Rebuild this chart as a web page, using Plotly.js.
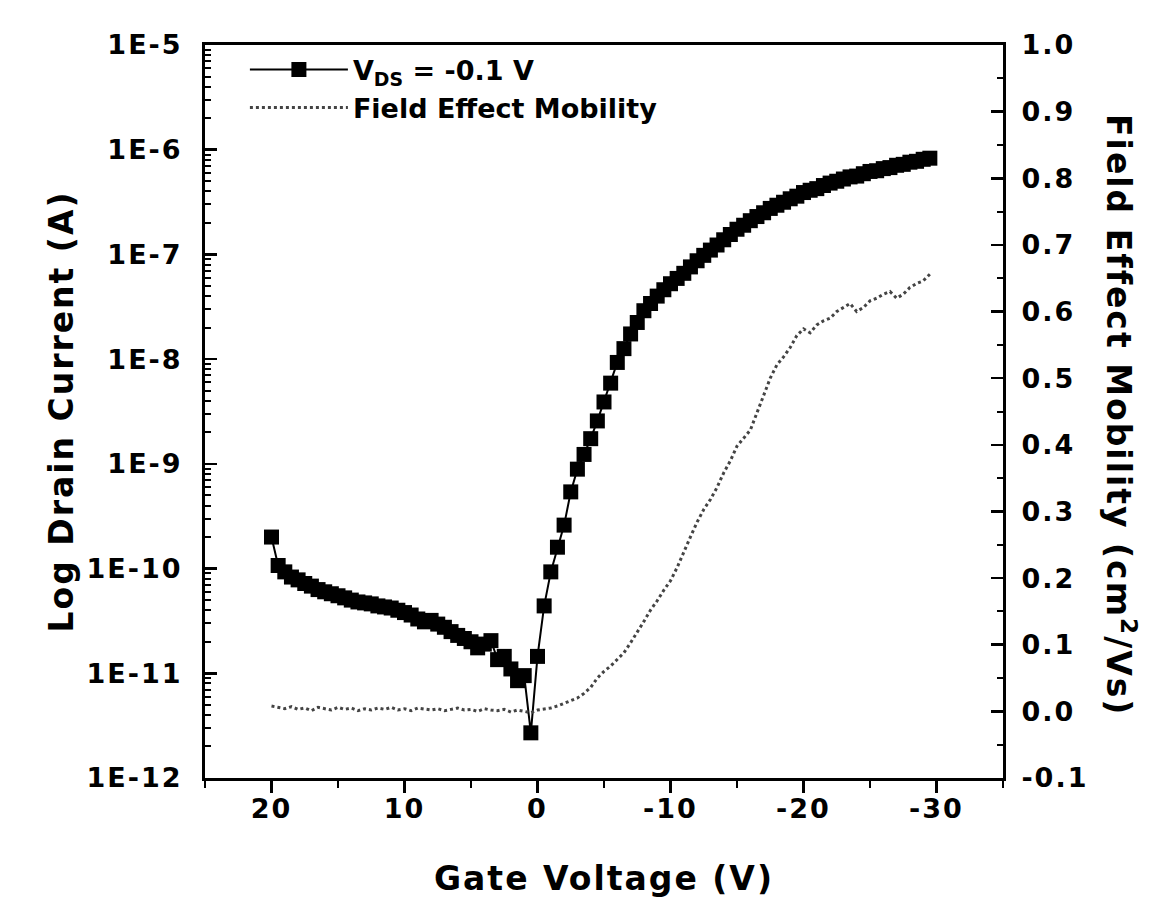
<!DOCTYPE html>
<html>
<head>
<meta charset="utf-8">
<script src="https://cdn.plot.ly/plotly-3.0.1.min.js"></script>
<style>
  html, body { margin: 0; padding: 0; background: #fff; }
  #chart { width: 1150px; height: 913px; }
  #chart .xtick text, #chart .ytick text, #chart .y2tick text { letter-spacing: 2px; }
  #chart .g-xtitle text, #chart .g-ytitle text, #chart .annotation text { letter-spacing: 2px; }
</style>
</head>
<body>
<div id="chart"></div>
<script>
// Gate voltage sweep (V) (0.5 V steps)
var gateVoltage = [
  20, 19.5, 19, 18.5, 18, 17.5, 17, 16.5, 16, 15.5,
  15, 14.5, 14, 13.5, 13, 12.5, 12, 11.5, 11, 10.5,
  10, 9.5, 9, 8.5, 8, 7.5, 7, 6.5, 6, 5.5,
  5, 4.5, 4, 3.5, 3, 2.5, 2, 1.5, 1, 0.5,
  0, -0.5, -1, -1.5, -2, -2.5, -3, -3.5, -4, -4.5,
  -5, -5.5, -6, -6.5, -7, -7.5, -8, -8.5, -9, -9.5,
  -10, -10.5, -11, -11.5, -12, -12.5, -13, -13.5, -14, -14.5,
  -15, -15.5, -16, -16.5, -17, -17.5, -18, -18.5, -19, -19.5,
  -20, -20.5, -21, -21.5, -22, -22.5, -23, -23.5, -24, -24.5,
  -25, -25.5, -26, -26.5, -27, -27.5, -28, -28.5, -29, -29.5
];

// Drain current (A) at V_DS = -0.1 V
var drainCurrent = [
  2.0e-10, 1.07e-10, 9.3e-11, 8.3e-11, 7.8e-11, 7.2e-11, 6.8e-11, 6.3e-11, 6.0e-11, 5.75e-11,
  5.5e-11, 5.25e-11, 5.0e-11, 4.8e-11, 4.7e-11, 4.6e-11, 4.4e-11, 4.3e-11, 4.2e-11, 4.0e-11,
  3.8e-11, 3.6e-11, 3.3e-11, 3.1e-11, 3.2e-11, 2.95e-11, 2.75e-11, 2.5e-11, 2.3e-11, 2.15e-11,
  2.0e-11, 1.75e-11, 1.9e-11, 2.05e-11, 1.35e-11, 1.45e-11, 1.1e-11, 8.5e-12, 9.5e-12, 2.7e-12,
  1.45e-11, 4.4e-11, 9.3e-11, 1.6e-10, 2.6e-10, 5.4e-10, 8.9e-10, 1.23e-9, 1.74e-9, 2.57e-9,
  3.9e-9, 5.9e-9, 9.3e-9, 1.26e-8, 1.74e-8, 2.24e-8, 2.9e-8, 3.4e-8, 4.0e-8, 4.6e-8,
  5.25e-8, 5.9e-8, 6.6e-8, 7.6e-8, 8.7e-8, 9.8e-8, 1.10e-7, 1.23e-7, 1.38e-7, 1.55e-7,
  1.74e-7, 1.9e-7, 2.1e-7, 2.3e-7, 2.5e-7, 2.75e-7, 2.95e-7, 3.15e-7, 3.4e-7, 3.6e-7,
  3.9e-7, 4.1e-7, 4.25e-7, 4.55e-7, 4.8e-7, 5.0e-7, 5.25e-7, 5.5e-7, 5.6e-7, 5.9e-7,
  6.2e-7, 6.3e-7, 6.6e-7, 6.75e-7, 7.1e-7, 7.25e-7, 7.6e-7, 7.75e-7, 8.1e-7, 8.3e-7
];

// Field effect mobility (cm^2/Vs)
var mobility = [
  0.008, 0.006, 0.004, 0.007, 0.003, 0.005, 0.001, 0.006, 0.004, 0.002,
  0.006, 0.003, 0.005, 0.001, 0.004, 0.002, 0.005, 0.003, 0.006, 0.002,
  0.004, 0.001, 0.005, 0.003, 0.002, 0.004, 0.001, 0.003, 0.005, 0.002,
  0.003, 0.000, 0.004, 0.002, 0.001, 0.003, -0.001, 0.002, 0.000, -0.002,
  0.002, 0.003, 0.005, 0.008, 0.012, 0.016, 0.020, 0.027, 0.036, 0.050,
  0.060, 0.068, 0.078, 0.088, 0.103, 0.118, 0.135, 0.152, 0.166, 0.182,
  0.196, 0.216, 0.240, 0.262, 0.284, 0.303, 0.318, 0.336, 0.358, 0.376,
  0.398, 0.410, 0.422, 0.448, 0.474, 0.500, 0.520, 0.532, 0.546, 0.564,
  0.574, 0.568, 0.580, 0.586, 0.590, 0.600, 0.606, 0.612, 0.600, 0.606,
  0.616, 0.620, 0.626, 0.630, 0.620, 0.626, 0.636, 0.642, 0.646, 0.656
];

// Tick labels
var xTickVals = [20, 10, 0, -10, -20, -30];
var xTickText = ['20', '10', '0', '-10', '-20', '-30'];
var yTickVals = [1e-12, 1e-11, 1e-10, 1e-9, 1e-8, 1e-7, 1e-6, 1e-5];
var yTickText = ['1E-12', '1E-11', '1E-10', '1E-9', '1E-8', '1E-7', '1E-6', '1E-5'];
var y2TickVals = [-0.1, 0.0, 0.1, 0.2, 0.3, 0.4, 0.5, 0.6, 0.7, 0.8, 0.9, 1.0];
var y2TickText = ['-0.1', '0.0', '0.1', '0.2', '0.3', '0.4', '0.5', '0.6', '0.7', '0.8', '0.9', '1.0'];

// minor tick positions (axis decoration)
var yMinor = [];
for (var d = -12; d < -5; d++) {
  for (var m = 2; m <= 9; m++) yMinor.push(m * Math.pow(10, d));
}
var xMinor = [25, 15, 5, -5, -15, -25, -35];
var y2Minor = [];
for (var k = 0; k < 11; k++) y2Minor.push(-0.05 + 0.1 * k);

var FONT = 'DejaVu Sans, Liberation Sans, Arial, sans-serif';

var traces = [
  {
    x: gateVoltage, y: drainCurrent, name: 'V<sub>DS</sub> = -0.1 V',
    type: 'scatter', mode: 'lines+markers', yaxis: 'y', legend: 'legend',
    line: { color: '#000', width: 2 },
    marker: { symbol: 'square', size: 15, color: '#000' }
  },
  {
    x: gateVoltage, y: mobility, name: 'Field Effect Mobility',
    type: 'scatter', mode: 'lines', yaxis: 'y2', legend: 'legend2',
    line: { color: '#444', width: 3, dash: 'dot' }
  }
];

var legendBase = {
  x: 0.05, xanchor: 'left', yanchor: 'middle',
  bgcolor: 'rgba(0,0,0,0)', borderwidth: 0,
  font: { family: FONT, size: 27, color: '#000', weight: 'bold' },
  itemwidth: 98
};

var layout = {
  width: 1150, height: 913,
  margin: { l: 205, r: 147, t: 45, b: 135 },
  paper_bgcolor: '#fff', plot_bgcolor: '#fff',
  font: { family: FONT, color: '#000', size: 26, weight: 'bold' },
  showlegend: true,
  legend: Object.assign({}, legendBase, { y: 0.966 }),
  legend2: Object.assign({}, legendBase, { y: 0.914 }),
  xaxis: {
    range: [25, -35], showgrid: false, zeroline: false,
    showline: true, linecolor: '#000', linewidth: 3, mirror: true,
    ticks: 'outside', ticklen: 12, tickwidth: 2.5, tickcolor: '#000',
    tickmode: 'array', tickvals: xTickVals, ticktext: xTickText,
    tickfont: { family: FONT, size: 27, weight: 'bold' },
    ticklabelstandoff: -7,
    minor: { tickmode: 'array', tickvals: xMinor, ticks: 'outside', ticklen: 7, tickwidth: 2, tickcolor: '#000' },
    title: { text: 'Gate Voltage (V)', font: { family: FONT, size: 33, weight: 'bold' }, standoff: 44 }
  },
  yaxis: {
    type: 'log', range: [-12, -5], showgrid: false, zeroline: false,
    showline: true, linecolor: '#000', linewidth: 3,
    ticks: 'inside', ticklen: 12, tickwidth: 2.5, tickcolor: '#000',
    tickmode: 'array', tickvals: yTickVals, ticktext: yTickText,
    tickfont: { family: FONT, size: 27, weight: 'bold' },
    ticklabelstandoff: 14,
    minor: { tickmode: 'array', tickvals: yMinor, ticks: 'inside', ticklen: 6, tickwidth: 2, tickcolor: '#000' },
    title: { text: 'Log Drain Current (A)', font: { family: FONT, size: 33, weight: 'bold' }, standoff: 14 }
  },
  yaxis2: {
    overlaying: 'y', side: 'right', anchor: 'x',
    range: [-0.1, 1.0], showgrid: false, zeroline: false,
    showline: true, linecolor: '#000', linewidth: 3,
    ticks: 'inside', ticklen: 12, tickwidth: 2.5, tickcolor: '#000',
    tickmode: 'array', tickvals: y2TickVals, ticktext: y2TickText,
    tickfont: { family: FONT, size: 27, weight: 'bold' },
    ticklabelstandoff: 10,
    minor: { tickmode: 'array', tickvals: y2Minor, ticks: 'inside', ticklen: 6, tickwidth: 2, tickcolor: '#000' }
  },
  annotations: [
    {
      text: 'Field Effect Mobility (cm<sup>2</sup>/Vs)',
      xref: 'paper', yref: 'paper', x: 1.148, y: 0.495,
      xanchor: 'center', yanchor: 'middle', textangle: 90, showarrow: false,
      font: { family: FONT, size: 33, color: '#000', weight: 'bold' }
    }
  ]
};

Plotly.newPlot('chart', traces, layout, { staticPlot: true, displayModeBar: false });
</script>
</body>
</html>
